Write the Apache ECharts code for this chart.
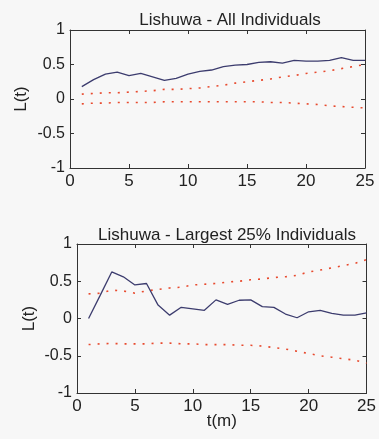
<!DOCTYPE html>
<html><head><meta charset="utf-8">
<script src="https://cdn.jsdelivr.net/npm/echarts@6/dist/echarts.min.js"></script>
<style>html,body{margin:0;padding:0;background:#f7f7f7;}#c{width:379px;height:439px;}</style>
</head><body><div id="c"></div>
<script>
const tValues = [1,2,3,4,5,6,7,8,9,10,11,12,13,14,15,16,17,18,19,20,21,22,23,24,25];
const allObserved = [0.18,0.28,0.36,0.39,0.34,0.37,0.32,0.27,0.30,0.36,0.40,0.42,0.47,0.49,0.50,0.53,0.54,0.52,0.56,0.55,0.55,0.56,0.60,0.56,0.56];
const allUpper = [0.07,0.08,0.09,0.09,0.10,0.11,0.12,0.14,0.14,0.15,0.16,0.18,0.20,0.23,0.25,0.27,0.29,0.32,0.34,0.37,0.39,0.41,0.44,0.47,0.50];
const allLower = [-0.07,-0.06,-0.06,-0.05,-0.05,-0.05,-0.05,-0.04,-0.04,-0.04,-0.04,-0.04,-0.04,-0.04,-0.04,-0.04,-0.05,-0.05,-0.06,-0.07,-0.08,-0.10,-0.11,-0.12,-0.13];
const bigObserved = [0.0,0.31,0.625,0.56,0.45,0.47,0.18,0.045,0.15,0.13,0.11,0.25,0.19,0.245,0.25,0.16,0.15,0.06,0.01,0.09,0.11,0.07,0.045,0.045,0.075];
const bigUpper = [0.33,0.34,0.38,0.37,0.34,0.37,0.39,0.41,0.42,0.45,0.46,0.47,0.49,0.50,0.52,0.53,0.55,0.56,0.58,0.625,0.65,0.68,0.71,0.74,0.79];
const bigLower = [-0.35,-0.34,-0.335,-0.34,-0.34,-0.34,-0.33,-0.33,-0.34,-0.34,-0.35,-0.35,-0.35,-0.36,-0.36,-0.37,-0.39,-0.41,-0.44,-0.47,-0.50,-0.52,-0.54,-0.56,-0.60];
const xTicks = [0,5,10,15,20,25];
const yTicks = [-1,-0.5,0,0.5,1];
const titles = ['Lishuwa - All Individuals','Lishuwa - Largest 25% Individuals'];

const pair = (ys) => tValues.map((t,i)=>[t,ys[i]]);
const font = 'Liberation Sans, Arial, sans-serif';
const axisCol = '#333';
function xAx(grid, pos, show, name) {
  return {type:'value', gridIndex:grid, position:pos, min:xTicks[0], max:xTicks[xTicks.length-1], interval:xTicks[1]-xTicks[0],
    axisLine:{show:true, onZero:false, lineStyle:{color:axisCol, width:1}},
    axisTick:{show:true, inside:true, length:4, lineStyle:{color:axisCol}},
    axisLabel:{show:show, color:'#222', fontSize:17, fontFamily:font, margin:5},
    splitLine:{show:false},
    name:name||'', nameLocation:'middle', nameGap:20, nameMoveOverlap:false,
    nameTextStyle:{color:'#222', fontSize:17, fontFamily:font}};
}
function yAx(grid, pos, show, gap) {
  return {type:'value', gridIndex:grid, position:pos, min:yTicks[0], max:yTicks[yTicks.length-1], interval:yTicks[1]-yTicks[0],
    axisLine:{show:true, onZero:false, lineStyle:{color:axisCol, width:1}},
    axisTick:{show:true, inside:true, length:4, lineStyle:{color:axisCol}},
    axisLabel:{show:show, color:'#222', fontSize:16, fontFamily:font, margin:5},
    splitLine:{show:false},
    name: show ? 'L(t)' : '', nameLocation:'middle', nameGap:gap||30, nameRotate:90, nameMoveOverlap:false,
    nameTextStyle:{color:'#222', fontSize:17, fontFamily:font}};
}
function solid(xi, yi, data) {
  return {type:'line', xAxisIndex:xi, yAxisIndex:yi, data:pair(data), showSymbol:false, silent:true,
    lineStyle:{color:'#3c3c6e', width:1.3}};
}
function dotted(xi, yi, data) {
  return {type:'line', xAxisIndex:xi, yAxisIndex:yi, data:pair(data), showSymbol:false, silent:true,
    lineStyle:{color:'#e84a2e', width:1.6, type:[2,7]}};
}
const chart = echarts.init(document.getElementById('c'), null, {renderer:'canvas'});
chart.setOption({
  backgroundColor:'#f7f7f7',
  animation:false,
  title:[
    {text:titles[0], left:225, top:7, textAlign:'center', textStyle:{fontSize:17, fontWeight:'normal', color:'#222', fontFamily:font}},
    {text:titles[1], left:222, top:222, textAlign:'center', textStyle:{fontSize:17, fontWeight:'normal', color:'#222', fontFamily:font}}
  ],
  grid:[
    {left:70, top:30, width:295, height:138},
    {left:77, top:244, width:295, height:149}
  ],
  xAxis:[xAx(0,'bottom',true), xAx(0,'top',false), xAx(1,'bottom',true,'t(m)'), xAx(1,'top',false)],
  yAxis:[yAx(0,'left',true,40), yAx(0,'right',false), yAx(1,'left',true,39), yAx(1,'right',false)],
  series:[
    dotted(0,0,allUpper), dotted(0,0,allLower), solid(0,0,allObserved),
    dotted(2,2,bigUpper), dotted(2,2,bigLower), solid(2,2,bigObserved)
  ]
});
</script></body></html>
